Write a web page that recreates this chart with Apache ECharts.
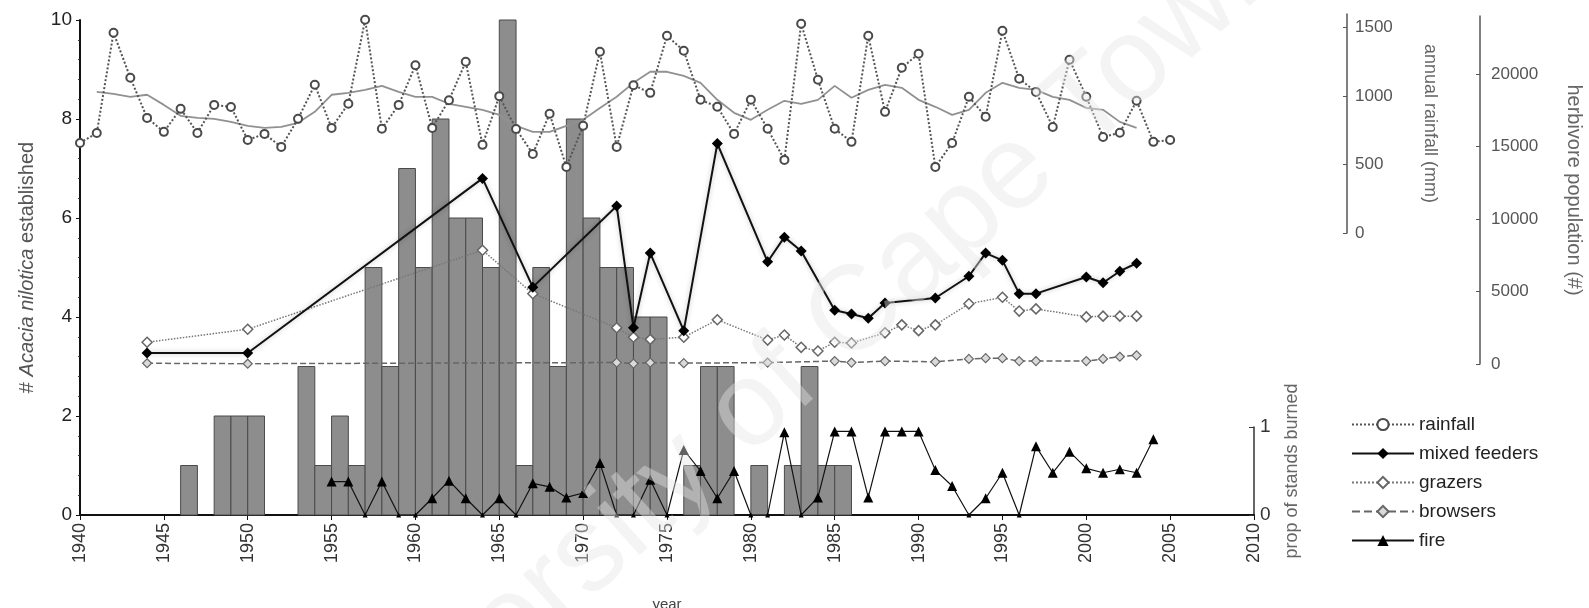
<!DOCTYPE html>
<html>
<head>
<meta charset="utf-8">
<script src="https://cdn.jsdelivr.net/npm/echarts@6/dist/echarts.min.js"></script>
<style>
  html, body { margin: 0; padding: 0; background: #fff; }
  #chart { width: 1589px; height: 608px; }
</style>
</head>
<body>
<div id="chart"></div>
<script>
// Acacia nilotica establishment per year (bars, left axis)
const barYears = [1946,1948,1949,1950,1953,1954,1955,1956,1957,1958,1959,1960,1961,1962,1963,1964,1965,1966,1967,1968,1969,1970,1971,1972,1973,1974,1976,1977,1978,1980,1982,1983,1984,1985];
const barCounts = [1,2,2,2,3,1,2,1,5,3,7,5,8,6,6,5,10,1,5,3,8,6,5,5,4,4,1,3,3,1,1,3,1,1];

// Annual rainfall (mm)
const rainYears = [1940,1941,1942,1943,1944,1945,1946,1947,1948,1949,1950,1951,1952,1953,1954,1955,1956,1957,1958,1959,1960,1961,1962,1963,1964,1965,1966,1967,1968,1969,1970,1971,1972,1973,1974,1975,1976,1977,1978,1979,1980,1981,1982,1983,1984,1985,1986,1987,1988,1989,1990,1991,1992,1993,1994,1995,1996,1997,1998,1999,2000,2001,2002,2003,2004,2005];
const rainfallMm = [658,731,1463,1134,841,739,907,731,936,921,680,724,629,834,1083,768,944,1558,761,936,1225,768,970,1251,644,1000,760,578,871,483,783,1324,629,1080,1024,1441,1331,973,922,724,973,761,534,1529,1119,761,666,1441,885,1207,1309,483,658,995,849,1478,1127,1031,775,1266,995,702,732,966,666,680];

// Smoothed rainfall (mm)
const meanYears = [1941,1942,1943,1944,1945,1946,1947,1948,1949,1950,1951,1952,1953,1954,1955,1956,1957,1958,1959,1960,1961,1962,1963,1964,1965,1966,1967,1968,1969,1970,1971,1972,1973,1974,1975,1976,1977,1978,1979,1980,1981,1982,1983,1984,1985,1986,1987,1988,1989,1990,1991,1992,1993,1994,1995,1996,1997,1998,1999,2000,2001,2002,2003];
const meanRainfallMm = [1031,1017,995,1010,936,856,841,834,812,783,768,775,805,885,1010,1024,1046,1075,1031,995,995,944,922,900,863,783,739,739,783,827,914,995,1097,1178,1178,1148,1097,973,878,827,900,966,944,973,1075,988,1046,1083,1061,973,922,863,900,1024,1097,1061,1046,995,973,914,900,812,768];

// Herbivore counts
const mixedYears = [1944,1950,1964,1967,1972,1973,1974,1976,1978,1981,1982,1983,1985,1986,1987,1988,1991,1993,1994,1995,1996,1997,2000,2001,2002,2003];
const mixedFeeders = [760,760,12800,5300,10900,2500,7650,2300,15200,7050,8750,7800,3700,3450,3150,4200,4550,6050,7650,7150,4850,4850,6000,5600,6400,6950];

const grazerYears = [1944,1950,1964,1967,1972,1973,1974,1976,1978,1981,1982,1983,1984,1985,1986,1988,1989,1990,1991,1993,1995,1996,1997,2000,2001,2002,2003];
const grazers = [1500,2400,7850,4850,2500,1850,1700,1850,3050,1650,2000,1150,900,1500,1450,2150,2700,2300,2700,4150,4600,3650,3800,3250,3300,3300,3300];

const browserYears = [1944,1950,1972,1973,1974,1976,1981,1985,1986,1988,1991,1993,1994,1995,1996,1997,2000,2001,2002,2003];
const browsers = [50,20,100,30,100,60,100,200,100,200,150,350,400,400,200,200,200,350,500,600];

// Proportion of stands burned
const fireYears = [1955,1956,1957,1958,1959,1960,1961,1962,1963,1964,1965,1966,1967,1968,1969,1970,1971,1972,1973,1974,1975,1976,1977,1978,1979,1980,1981,1982,1983,1984,1985,1986,1987,1988,1989,1990,1991,1992,1993,1994,1995,1996,1997,1998,1999,2000,2001,2002,2003,2004];
const fireProp = [0.38,0.38,0,0.38,0,0,0.19,0.39,0.19,0,0.19,0,0.36,0.32,0.2,0.25,0.59,0,0,0.4,0,0.74,0.5,0.19,0.5,0,0,0.94,0,0.2,0.95,0.95,0.2,0.95,0.95,0.95,0.51,0.33,0,0.19,0.48,0,0.78,0.48,0.72,0.53,0.48,0.52,0.48,0.86];

const FONT = '"Liberation Sans", Arial, sans-serif';
const plain = (v) => String(v);
const pairs = (xs, ys) => xs.map((x, i) => [x, ys[i]]);
const hiddenX = (gridIndex) => ({ type: 'value', gridIndex, min: 1940, max: 2010, show: false });
const gridBox = (top, bottom) => ({ left: 80, right: 335, top, bottom, containLabel: false, outerBoundsMode: 'none' });

const chart = echarts.init(document.getElementById('chart'), null, { renderer: 'canvas' });

const option = {
  animation: false,
  backgroundColor: '#fff',
  textStyle: { fontFamily: FONT },
  grid: [
    gridBox(20, 93),   // establishment
    gridBox(14, 375),  // rainfall
    gridBox(16, 244),  // herbivores
    gridBox(427, 93)   // fire
  ],
  xAxis: [
    {
      type: 'value', gridIndex: 0, min: 1940, max: 2010, interval: 5,
      name: 'year', nameLocation: 'middle', nameGap: 82,
      nameTextStyle: { fontSize: 15, color: '#444' },
      axisLine: { show: true, lineStyle: { color: '#111', width: 2 } },
      axisTick: { show: true, length: 5, lineStyle: { color: '#111' } },
      axisLabel: { rotate: 90, fontSize: 18, color: '#333', margin: 8, formatter: plain },
      splitLine: { show: false }
    },
    hiddenX(1), hiddenX(2), hiddenX(3)
  ],
  yAxis: [
    {
      type: 'value', gridIndex: 0, min: 0, max: 10, interval: 2, position: 'left',
      name: '{n|# }{i|Acacia nilotica}{n| established}',
      nameLocation: 'middle', nameRotate: 90, nameGap: 43,
      nameTextStyle: {
        color: '#555',
        rich: {
          n: { fontSize: 20, color: '#555', fontFamily: FONT },
          i: { fontSize: 20, color: '#555', fontStyle: 'italic', fontFamily: FONT }
        }
      },
      axisLine: { show: true, lineStyle: { color: '#111', width: 2 } },
      axisTick: { show: true, length: 4, lineStyle: { color: '#111' } },
      minorTick: { show: true, splitNumber: 5, length: 2, lineStyle: { color: '#333' } },
      axisLabel: { fontSize: 19, color: '#222', margin: 8, formatter: plain },
      splitLine: { show: false }
    },
    {
      type: 'value', gridIndex: 1, min: 0, max: 1600, interval: 500, position: 'right', offset: 93,
      name: 'annual rainfall (mm)', nameLocation: 'middle', nameRotate: -90, nameGap: 74,
      nameTextStyle: { fontSize: 18, color: '#666' },
      axisLine: { show: true, lineStyle: { color: '#555', width: 1.5 } },
      axisTick: { show: true, inside: true, length: 4, lineStyle: { color: '#555' } },
      axisLabel: { fontSize: 17, color: '#555', margin: 8, showMaxLabel: false, formatter: plain },
      splitLine: { show: false }
    },
    {
      type: 'value', gridIndex: 2, min: 0, max: 24000, interval: 5000, position: 'right', offset: 226,
      name: 'herbivore population (#)', nameLocation: 'middle', nameRotate: -90, nameGap: 84,
      nameTextStyle: { fontSize: 20, color: '#666' },
      axisLine: { show: true, lineStyle: { color: '#555', width: 1.5 } },
      axisTick: { show: true, inside: true, length: 4, lineStyle: { color: '#555' } },
      axisLabel: { fontSize: 17, color: '#555', margin: 11, showMaxLabel: false, formatter: plain },
      splitLine: { show: false }
    },
    {
      type: 'value', gridIndex: 3, min: 0, max: 1, interval: 1, position: 'right', offset: 0,
      name: 'prop of stands burned', nameLocation: 'middle', nameRotate: 90, nameGap: 29,
      nameTextStyle: { fontSize: 18, color: '#666' },
      axisLine: { show: true, lineStyle: { color: '#333', width: 1.5 } },
      axisTick: { show: true, inside: true, length: 5, lineStyle: { color: '#333' } },
      axisLabel: { fontSize: 19, color: '#333', margin: 6, formatter: plain },
      splitLine: { show: false }
    }
  ],
  legend: {
    data: ['rainfall', 'mixed feeders', 'grazers', 'browsers', 'fire'],
    orient: 'vertical', left: 1346, top: 410,
    itemWidth: 62, itemHeight: 14, itemGap: 10,
    textStyle: { fontSize: 19, color: '#222', fontFamily: FONT }
  },
  series: [
    {
      name: 'establishment', type: 'custom', xAxisIndex: 0, yAxisIndex: 0, z: 1,
      data: pairs(barYears, barCounts),
      encode: { x: 0, y: 1 },
      renderItem: (params, api) => {
        const base = api.coord([api.value(0), 0]);
        const top = api.coord([api.value(0) + 1, api.value(1)]);
        return {
          type: 'rect',
          shape: { x: base[0], y: top[1], width: top[0] - base[0], height: base[1] - top[1] },
          style: { fill: '#8d8d8d', stroke: '#4a4a4a', lineWidth: 1 }
        };
      }
    },
    {
      name: 'rainfall mean', type: 'line', xAxisIndex: 1, yAxisIndex: 1, z: 3,
      data: pairs(meanYears, meanRainfallMm),
      showSymbol: false, symbol: 'none',
      lineStyle: { color: '#919191', width: 1.8 }
    },
    {
      name: 'rainfall', type: 'line', xAxisIndex: 1, yAxisIndex: 1, z: 4,
      data: pairs(rainYears, rainfallMm),
      symbol: 'emptyCircle', symbolSize: 8,
      itemStyle: { color: '#4a4a4a', borderWidth: 1.8 },
      lineStyle: { color: '#555', width: 2, type: 'dotted' }
    },
    {
      name: 'browsers', type: 'line', xAxisIndex: 2, yAxisIndex: 2, z: 5,
      data: pairs(browserYears, browsers),
      symbol: 'diamond', symbolSize: 9,
      itemStyle: { color: '#dadada', borderColor: '#666', borderWidth: 1.2 },
      lineStyle: { color: '#666', width: 1.5, type: 'dashed' }
    },
    {
      name: 'grazers', type: 'line', xAxisIndex: 2, yAxisIndex: 2, z: 5,
      data: pairs(grazerYears, grazers),
      symbol: 'diamond', symbolSize: 10,
      itemStyle: { color: '#fff', borderColor: '#666', borderWidth: 1.5 },
      lineStyle: { color: '#777', width: 1.5, type: 'dotted' }
    },
    {
      name: 'mixed feeders', type: 'line', xAxisIndex: 2, yAxisIndex: 2, z: 6,
      data: pairs(mixedYears, mixedFeeders),
      symbol: 'diamond', symbolSize: 11,
      itemStyle: { color: '#000' },
      lineStyle: { color: '#111', width: 2, shadowColor: 'rgba(0,0,0,0.25)', shadowBlur: 5 }
    },
    {
      name: 'fire', type: 'line', xAxisIndex: 3, yAxisIndex: 3, z: 6,
      data: pairs(fireYears, fireProp),
      symbol: 'triangle',
      symbolSize: (v) => (v[1] === 0 ? 5 : 10),
      itemStyle: { color: '#000' },
      lineStyle: { color: '#111', width: 1.2 }
    }
  ],
  graphic: {
    elements: [
      {
        type: 'text', x: 790, y: 375, rotation: 0.733, z: 100, silent: true,
        style: {
          text: 'University of Cape Town',
          fontSize: 120, fontFamily: FONT,
          fill: 'rgba(228,228,228,0.42)',
          align: 'center', verticalAlign: 'middle',
          textAlign: 'center', textVerticalAlign: 'middle'
        }
      }
    ]
  }
};

chart.setOption(option);
</script>
</body>
</html>
